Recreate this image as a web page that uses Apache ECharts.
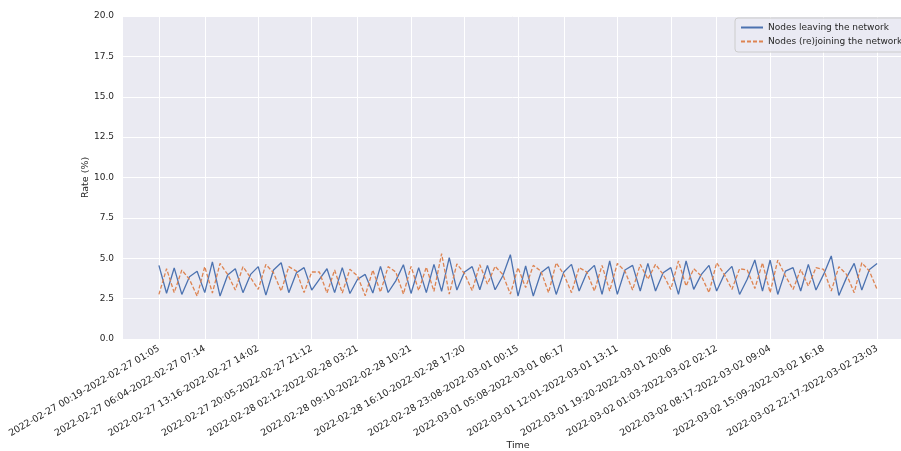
<!DOCTYPE html>
<html>
<head>
<meta charset="utf-8">
<script src="https://cdn.jsdelivr.net/npm/echarts@6/dist/echarts.min.js"></script>
<style>
  html, body { margin: 0; padding: 0; background: #ffffff; }
  #chart { width: 901px; height: 451px; }
</style>
</head>
<body>
<div id="chart"></div>
<script>
// rates per time window
const leaving = [
  4.56, 2.83, 4.40, 2.76, 3.86, 4.19, 2.87, 4.77, 2.66, 3.96,
  4.35, 2.87, 4.00, 4.48, 2.72, 4.27, 4.72, 2.87, 4.10, 4.42,
  3.03, 3.69, 4.35, 2.87, 4.42, 2.82, 3.70, 4.00, 2.85, 4.50,
  2.88, 3.60, 4.60, 2.82, 4.42, 2.87, 4.62, 2.95, 5.04, 3.03,
  4.15, 4.48, 3.05, 4.56, 3.05, 3.90, 5.22, 2.66, 4.52, 2.66,
  4.10, 4.48, 2.76, 4.15, 4.62, 2.97, 4.10, 4.56, 2.76, 4.83,
  2.76, 4.27, 4.56, 2.97, 4.68, 2.97, 4.10, 4.42, 2.76, 4.83,
  3.07, 4.00, 4.56, 2.97, 4.00, 4.50, 2.76, 3.70, 4.89, 2.97,
  4.89, 2.76, 4.20, 4.42, 2.97, 4.62, 3.03, 4.00, 5.14, 2.70,
  3.80, 4.68, 3.03, 4.31, 4.68
];
const rejoining = [
  2.76, 4.35, 2.87, 4.27, 3.69, 2.66, 4.48, 2.85, 4.68, 4.00,
  3.03, 4.48, 3.80, 3.07, 4.62, 4.10, 2.97, 4.48, 4.20, 2.87,
  4.15, 4.15, 2.85, 4.27, 2.85, 4.32, 3.90, 2.68, 4.27, 2.90,
  4.48, 4.15, 2.78, 4.50, 3.00, 4.45, 2.95, 5.28, 2.78, 4.65,
  4.05, 3.00, 4.60, 3.40, 4.50, 4.00, 2.78, 4.42, 3.18, 4.56,
  4.20, 2.87, 4.72, 4.00, 2.87, 4.42, 4.15, 2.97, 4.56, 2.97,
  4.68, 4.20, 3.03, 4.62, 3.70, 4.62, 4.00, 3.07, 4.83, 3.28,
  4.35, 3.90, 2.87, 4.72, 4.00, 3.07, 4.35, 4.27, 3.13, 4.72,
  2.87, 4.89, 3.90, 3.07, 4.31, 3.28, 4.42, 4.31, 2.97, 4.48,
  4.00, 2.87, 4.72, 4.20, 3.07
];

// labelled windows (index into the series) and their text
const tickIdx = [0, 6, 13, 20, 26, 33, 40, 47, 53, 60, 67, 73, 80, 87, 94];
const tickLabels = [
  '2022-02-27 00:19-2022-02-27 01:05',
  '2022-02-27 06:04-2022-02-27 07:14',
  '2022-02-27 13:16-2022-02-27 14:02',
  '2022-02-27 20:05-2022-02-27 21:12',
  '2022-02-28 02:12-2022-02-28 03:21',
  '2022-02-28 09:10-2022-02-28 10:21',
  '2022-02-28 16:10-2022-02-28 17:20',
  '2022-02-28 23:08-2022-03-01 00:15',
  '2022-03-01 05:08-2022-03-01 06:17',
  '2022-03-01 12:01-2022-03-01 13:11',
  '2022-03-01 19:20-2022-03-01 20:06',
  '2022-03-02 01:03-2022-03-02 02:12',
  '2022-03-02 08:17-2022-03-02 09:04',
  '2022-03-02 15:09-2022-03-02 16:18',
  '2022-03-02 22:17-2022-03-02 23:03'
];

const yTicks = [0, 2.5, 5, 7.5, 10, 12.5, 15, 17.5, 20];

const labelOf = new Map(tickIdx.map((v, i) => [v, tickLabels[i]]));
const textColor = '#262626';
const font = 'DejaVu Sans';

const chart = echarts.init(document.getElementById('chart'), null, { renderer: 'canvas' });

// matplotlib pads x by 5% of the data span on both sides
const n = leaving.length - 1;
const pad = n * 0.05;

chart.setOption({
  animation: false,
  backgroundColor: '#ffffff',
  textStyle: { fontFamily: font },
  grid: {
    left: 123, top: 16, width: 790, height: 323,
    outerBoundsMode: 'none',
    show: true, backgroundColor: '#EAEAF2', borderWidth: 0
  },
  legend: {
    orient: 'vertical',
    left: 735, top: 18,
    itemWidth: 22, itemHeight: 10, itemGap: 5,
    padding: [5, 6, 6, 5],
    backgroundColor: 'rgba(234,234,242,0.8)',
    borderColor: '#cccccc', borderWidth: 1, borderRadius: 3,
    itemStyle: { opacity: 0 },
    textStyle: { color: textColor, fontSize: 9, fontFamily: font },
    data: ['Nodes leaving the network', 'Nodes (re)joining the network']
  },
  xAxis: {
    type: 'value',
    min: -pad, max: n + pad,
    name: 'Time', nameLocation: 'middle', nameGap: 102,
    nameMoveOverlap: false,
    nameTextStyle: { color: textColor, fontSize: 9.5, fontFamily: font },
    axisLine: { show: false },
    axisTick: { show: false, customValues: tickIdx },
    axisLabel: {
      customValues: tickIdx,
      rotate: 30, margin: 9,
      color: textColor, fontSize: 9.4, fontFamily: font,
      formatter: (v) => labelOf.get(Math.round(v)) || ''
    },
    splitLine: { show: true, lineStyle: { color: '#ffffff', width: 1 } }
  },
  yAxis: {
    type: 'value',
    min: 0, max: 20, interval: 2.5,
    name: 'Rate (%)', nameLocation: 'middle', nameGap: 32,
    nameMoveOverlap: false,
    nameTextStyle: { color: textColor, fontSize: 9.5, fontFamily: font },
    axisLine: { show: false },
    axisTick: { show: false },
    axisLabel: {
      color: textColor, fontSize: 9, fontFamily: font, margin: 9,
      formatter: (v) => yTicks.includes(v) ? v.toFixed(1) : ''
    },
    splitLine: { show: true, lineStyle: { color: '#ffffff', width: 1 } }
  },
  series: [
    {
      type: 'line',
      name: 'Nodes leaving the network',
      data: leaving.map((v, i) => [i, v]),
      symbol: 'none',
      lineStyle: { color: '#4C72B0', width: 1.3 },
      itemStyle: { color: '#4C72B0' }
    },
    {
      type: 'line',
      name: 'Nodes (re)joining the network',
      data: rejoining.map((v, i) => [i, v]),
      symbol: 'none',
      lineStyle: { color: '#DD8452', width: 1.3, type: [4, 2] },
      itemStyle: { color: '#DD8452' }
    }
  ]
});
</script>
</body>
</html>
